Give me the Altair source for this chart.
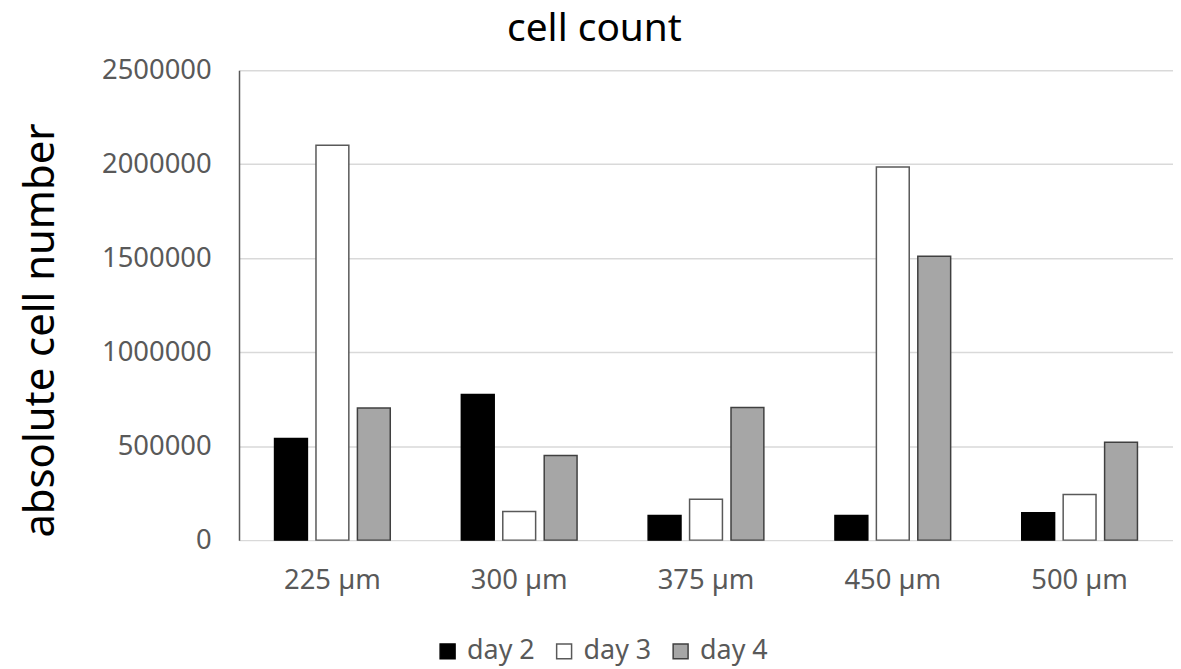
import altair as alt
import pandas as pd

categories = ["225 µm", "300 µm", "375 µm", "450 µm", "500 µm"]
days = ["day 2", "day 3", "day 4"]
day2 = [540000, 775000, 131000, 131000, 146000]
day3 = [2100000, 152000, 218000, 1985000, 243000]
day4 = [703000, 450000, 705000, 1510000, 521000]
y_ticks = [0, 500000, 1000000, 1500000, 2000000, 2500000]

fill_colors = ["#000000", "#FFFFFF", "#A6A6A6"]
stroke_colors = ["#000000", "#595959", "#404040"]

rows = []
for i, c in enumerate(categories):
    for d, vals in zip(days, [day2, day3, day4]):
        rows.append({"size": c, "day": d, "count": vals[i]})
df = pd.DataFrame(rows)

FONT = "Noto Sans"

chart = (
    alt.Chart(df)
    .mark_bar(strokeWidth=1.5)
    .encode(
        x=alt.X(
            "size:N",
            sort=categories,
            scale=alt.Scale(paddingInner=0, paddingOuter=0),
            axis=alt.Axis(
                title=None,
                labelAngle=0,
                ticks=False,
                domain=False,
                labelFont=FONT,
                labelFontSize=27.5,
                labelColor="#595959",
                labelPadding=27,
            ),
        ),
        xOffset=alt.XOffset(
            "day:N", sort=days, scale=alt.Scale(paddingInner=0.207, paddingOuter=0.858)
        ),
        y=alt.Y(
            "count:Q",
            scale=alt.Scale(domain=[0, 2500000], nice=False),
            axis=alt.Axis(
                values=y_ticks,
                format="d",
                title="absolute cell number",
                titleFont=FONT,
                titleFontSize=42,
                titleFontWeight="normal",
                titleColor="#000000",
                titleX=-186,
                titleY=261,
                titleBaseline="alphabetic",
                titleAngle=270,
                ticks=False,
                labelFont=FONT,
                labelFontSize=27.5,
                labelColor="#595959",
                labelPadding=28,
                domain=True,
                domainColor="#595959",
                domainWidth=1.5,
                grid=True,
                gridColor="#D9D9D9",
                gridWidth=1.5,
            ),
        ),
        color=alt.Color(
            "day:N",
            scale=alt.Scale(domain=days, range=fill_colors),
            legend=alt.Legend(
                title=None,
                orient="none",
                legendX=196,
                legendY=570,
                direction="horizontal",
                symbolType="square",
                symbolSize=225,
                symbolStrokeWidth=1.5,
                labelFont=FONT,
                labelFontSize=27,
                labelColor="#595959",
                labelOffset=6,
                columnPadding=16,
                padding=0,
            ),
        ),
        stroke=alt.Stroke("day:N", scale=alt.Scale(domain=days, range=stroke_colors)),
    )
    .properties(
        width=938,
        height=472,
        title=alt.Title(
            "cell count",
            font=FONT,
            fontSize=39,
            fontWeight="normal",
            color="#000000",
            anchor="middle",
            dx=-112,
            offset=7,
        ),
        autosize=alt.AutoSizeParams(type="none"),
        padding={"left": 232, "top": 61, "right": 0, "bottom": 125},
    )
    .configure_view(stroke=None)
)

chart.save("out.html", embed_options={"renderer": "svg", "actions": False})
